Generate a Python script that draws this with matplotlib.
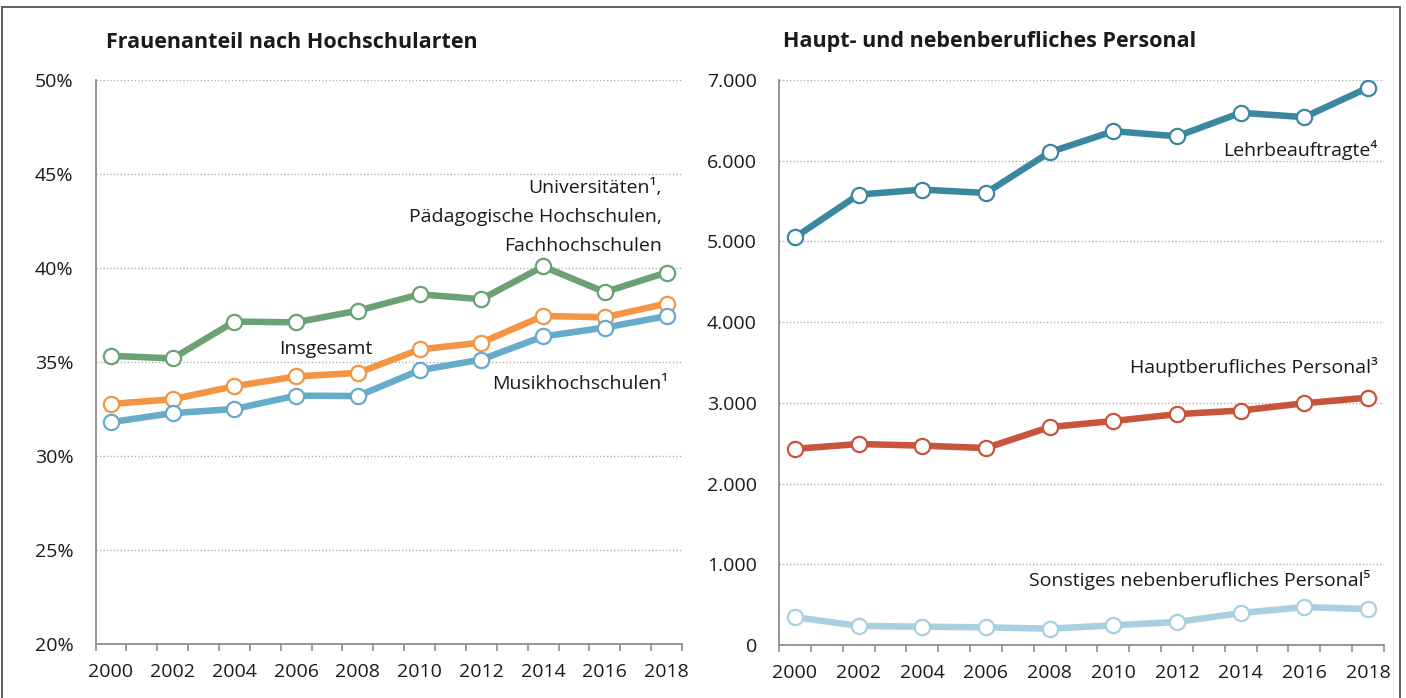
import matplotlib
matplotlib.use("Agg")
import matplotlib.pyplot as plt
from matplotlib.patches import Rectangle
from matplotlib.ticker import FixedLocator, FuncFormatter

plt.rcParams['font.family'] = ['Open Sans', 'DejaVu Sans']

years = [2000, 2002, 2004, 2006, 2008, 2010, 2012, 2014, 2016, 2018]

# Left: Frauenanteil (%)
uni_ph_fh = [35.33, 35.19, 37.15, 37.11, 37.73, 38.60, 38.34, 40.08, 38.72, 39.76]
insgesamt = [32.77, 33.02, 33.71, 34.23, 34.42, 35.67, 36.03, 37.45, 37.38, 38.11]
musik = [31.80, 32.28, 32.50, 33.21, 33.19, 34.56, 35.13, 36.36, 36.83, 37.44]

# Right: Personal (Anzahl)
lehrbeauftragte = [5050, 5580, 5642, 5600, 6105, 6366, 6302, 6594, 6540, 6905]
hauptberuflich = [2430, 2490, 2470, 2440, 2700, 2775, 2860, 2905, 2995, 3065]
sonstige = [346, 236, 227, 219, 202, 244, 285, 396, 470, 445]

left_ticks = [20, 25, 30, 35, 40, 45, 50]
right_ticks = [0, 1000, 2000, 3000, 4000, 5000, 6000, 7000]

c_green = '#6ba274'
c_orange = '#f39542'
c_blue = '#66abc9'
c_lehr = '#3c87a0'
c_haupt = '#c8543b'
c_sonst = '#a8d0e0'

W, H = 1406, 698
fig = plt.figure(figsize=(W / 100, H / 100), dpi=100)

def ax_rect(x0, y_top, x1, y_bot):
    return [x0 / W, 1 - y_bot / H, (x1 - x0) / W, (y_bot - y_top) / H]

axL = fig.add_axes(ax_rect(95.5, 80, 682, 644))
axR = fig.add_axes(ax_rect(779, 80, 1384, 645))

LS = 14

def style(ax, ticks, fmt):
    ax.set_xlim(1999.5, 2018.5)
    ax.set_ylim(ticks[0], ticks[-1])
    for s in ['top', 'right']:
        ax.spines[s].set_visible(False)
    for s in ['left', 'bottom']:
        ax.spines[s].set_color('#8c8c8c')
        ax.spines[s].set_linewidth(1.3)
    ax.yaxis.set_major_locator(FixedLocator(ticks))
    ax.yaxis.set_major_formatter(FuncFormatter(fmt))
    ax.tick_params(axis='y', length=0, pad=16, labelsize=LS, colors='#1a1a1a')
    ax.set_xticks(years)
    ax.set_xticklabels([str(y) for y in years])
    ax.tick_params(axis='x', which='major', length=0, pad=14, labelsize=LS, colors='#1a1a1a')
    ax.set_xticks([1999.5 + i for i in range(20)], minor=True)
    ax.tick_params(axis='x', which='minor', length=5, width=1.2, color='#8c8c8c', direction='out')
    for t in ticks[1:]:
        ax.axhline(t, color='#b0b0b0', lw=1.0, ls=(0, (1, 1.5)), zorder=1)

def series(ax, y, color):
    ax.plot(years, y, color=color, lw=4.7, marker='o', ms=11, mfc='white',
            mec=color, mew=1.6, zorder=3, solid_joinstyle='round')

style(axL, left_ticks, lambda v, p: f"{int(v)}%")
style(axR, right_ticks, lambda v, p: f"{int(v):,}".replace(",", "."))

series(axL, uni_ph_fh, c_green)
series(axL, insgesamt, c_orange)
series(axL, musik, c_blue)

series(axR, lehrbeauftragte, c_lehr)
series(axR, hauptberuflich, c_haupt)
series(axR, sonstige, c_sonst)

fs = 14
tc = '#1a1a1a'
axL.text(2017.85, 44.26, "Universitäten¹,", ha='right', va='center', fontsize=fs, color=tc)
axL.text(2017.85, 42.70, "Pädagogische Hochschulen,", ha='right', va='center', fontsize=fs, color=tc)
axL.text(2017.85, 41.17, "Fachhochschulen", ha='right', va='center', fontsize=fs, color=tc)
axL.text(2006.97, 35.69, "Insgesamt", ha='center', va='center', fontsize=fs, color=tc)
axL.text(2018.05, 33.83, "Musikhochschulen¹", ha='right', va='center', fontsize=fs, color=tc)

axR.text(2018.3, 6133, "Lehrbeauftragte⁴", ha='right', va='center', fontsize=fs, color=tc)
axR.text(2018.3, 3444, "Hauptberufliches Personal³", ha='right', va='center', fontsize=fs, color=tc)
axR.text(2018.06, 805, "Sonstiges nebenberufliches Personal⁵", ha='right', va='center', fontsize=fs, color=tc)

fig.text(106 / W, 1 - 42 / H, "Frauenanteil nach Hochschularten", ha='left', va='center',
         fontsize=15.5, fontweight='bold', color=tc)
fig.text(783 / W, 1 - 42 / H, "Haupt- und nebenberufliches Personal", ha='left', va='center',
         fontsize=15.5, fontweight='bold', color=tc)

fig.patches.append(Rectangle((2 / W, -0.02), (1400 - 2) / W, 1.02 - 7 / H,
                             transform=fig.transFigure, fill=False,
                             edgecolor='#555555', lw=1.3, clip_on=False))

fig.savefig("out.png", dpi=100)
